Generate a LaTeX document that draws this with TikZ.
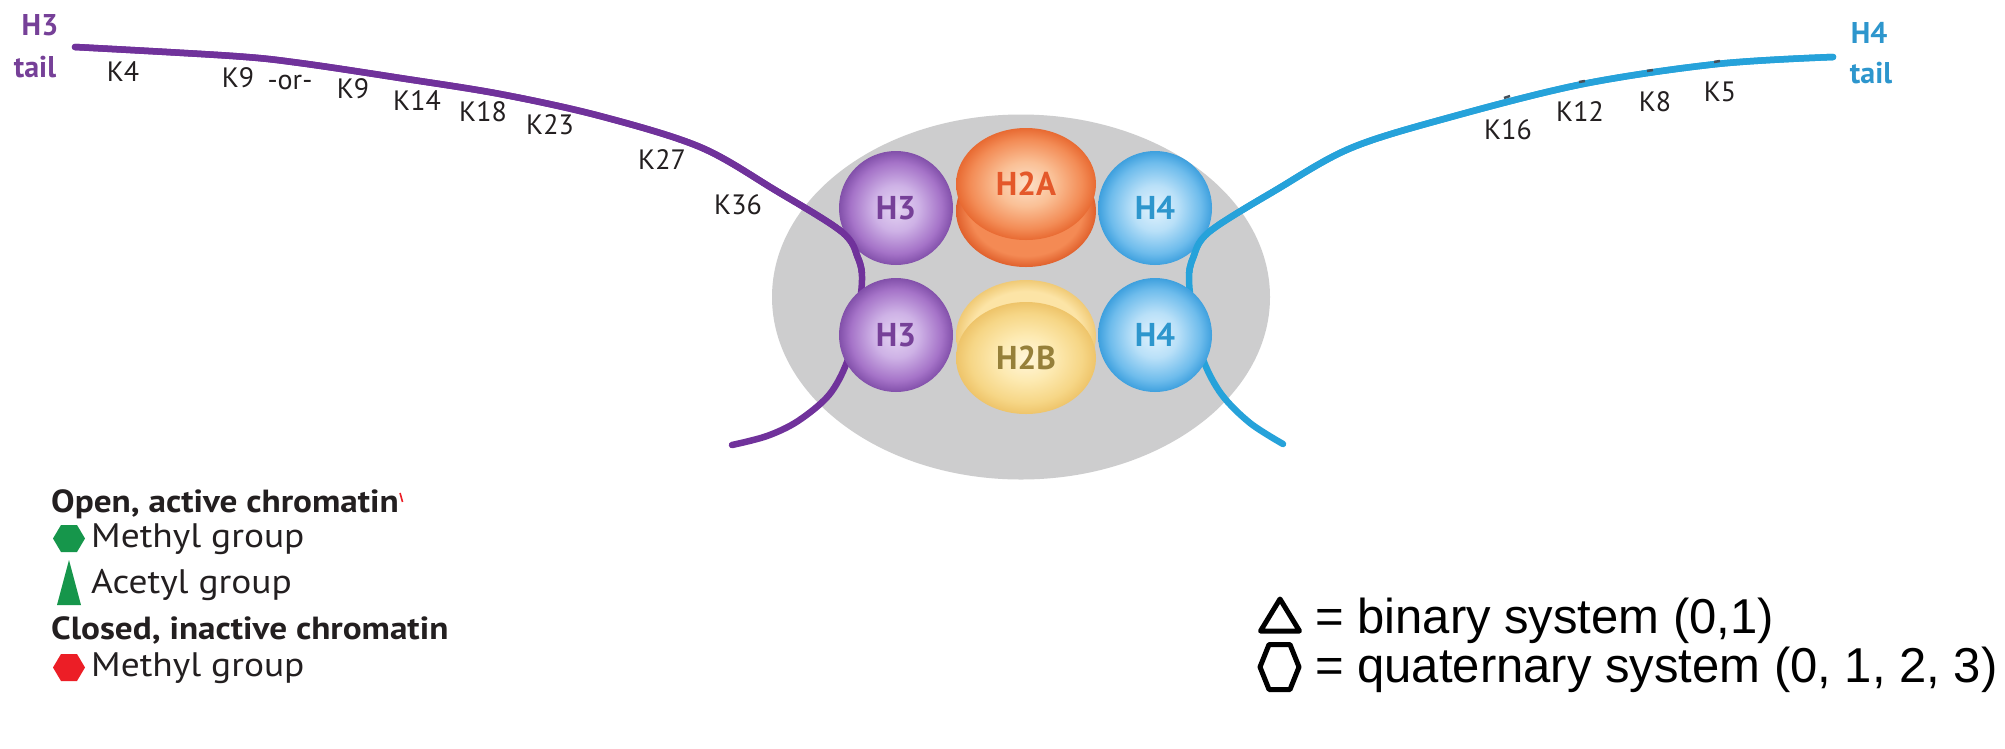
\documentclass[tikz,border=0pt]{standalone}
\usepackage{fontspec}
\setmainfont{PT Sans}
\newfontfamily\legendfont{PT Sans}[FakeStretch=1.1]
\newfontfamily\arialfont{Liberation Sans}
\usetikzlibrary{shapes.geometric}

% palette
\definecolor{coregray}{RGB}{205,205,206}
\definecolor{hthreeline}{RGB}{112,50,155}
\definecolor{hthreetext}{RGB}{118,64,152}
\definecolor{hfourline}{RGB}{38,162,218}
\definecolor{hfourtext}{RGB}{45,150,205}
\definecolor{ktext}{RGB}{35,31,32}
\definecolor{htwoatext}{RGB}{228,88,42}
\definecolor{htwobtext}{RGB}{150,128,58}
\definecolor{opengreen}{RGB}{22,150,75}
\definecolor{closedred}{RGB}{236,30,38}
\definecolor{ticksgray}{RGB}{70,80,90}

% histone ball colours (centre -> rim)
\definecolor{hthreeA}{RGB}{228,212,242}
\definecolor{hthreeB}{RGB}{206,178,230}
\definecolor{hthreeC}{RGB}{165,115,200}
\definecolor{hthreeD}{RGB}{130,80,170}
\definecolor{hfourA}{RGB}{225,242,253}
\definecolor{hfourB}{RGB}{185,224,248}
\definecolor{hfourC}{RGB}{110,188,236}
\definecolor{hfourD}{RGB}{62,160,222}
\definecolor{htwoaA}{RGB}{252,224,200}
\definecolor{htwoaB}{RGB}{250,192,150}
\definecolor{htwoaC}{RGB}{243,140,86}
\definecolor{htwoaD}{RGB}{232,106,50}
\definecolor{htwoaE}{RGB}{244,138,84}
\definecolor{htwoaF}{RGB}{224,96,44}
\definecolor{htwobA}{RGB}{255,246,218}
\definecolor{htwobB}{RGB}{253,234,178}
\definecolor{htwobC}{RGB}{246,214,134}
\definecolor{htwobD}{RGB}{238,196,106}
\definecolor{htwobE}{RGB}{252,228,166}
\definecolor{htwobF}{RGB}{240,202,118}

\pgfdeclareradialshading{ballthree}{\pgfpoint{0bp}{0bp}}{color(0bp)=(hthreeA); color(10bp)=(hthreeB); color(20bp)=(hthreeC); color(25bp)=(hthreeD); color(50bp)=(hthreeD)}
\pgfdeclareradialshading{ballfour}{\pgfpoint{0bp}{0bp}}{color(0bp)=(hfourA); color(10bp)=(hfourB); color(20bp)=(hfourC); color(25bp)=(hfourD); color(50bp)=(hfourD)}
\pgfdeclareradialshading{disctwoa}{\pgfpoint{0bp}{0bp}}{color(0bp)=(htwoaA); color(10bp)=(htwoaB); color(20bp)=(htwoaC); color(25bp)=(htwoaD); color(50bp)=(htwoaD)}
\pgfdeclareradialshading{disctwoaback}{\pgfpoint{0bp}{0bp}}{color(0bp)=(htwoaE); color(20bp)=(htwoaE); color(25bp)=(htwoaF); color(50bp)=(htwoaF)}
\pgfdeclareradialshading{disctwob}{\pgfpoint{0bp}{0bp}}{color(0bp)=(htwobA); color(10bp)=(htwobB); color(20bp)=(htwobC); color(25bp)=(htwobD); color(50bp)=(htwobD)}
\pgfdeclareradialshading{disctwobback}{\pgfpoint{0bp}{0bp}}{color(0bp)=(htwobE); color(20bp)=(htwobE); color(25bp)=(htwobF); color(50bp)=(htwobF)}

\tikzset{
  klabel/.style={font=\fontsize{28}{28}\selectfont, text=ktext, inner sep=0pt},
  taillabel/.style={font=\bfseries\fontsize{30}{30}\selectfont, inner sep=0pt, anchor=base},
  histone/.style={circle, inner sep=0pt, minimum size=114pt, shade, font=\bfseries\fontsize{33}{33}\selectfont},
  dimer/.style={ellipse, inner sep=0pt, minimum width=140pt, minimum height=112pt, shade, font=\bfseries\fontsize{33}{33}\selectfont},
  strand/.style={line width=6.5pt, line cap=round, line join=round},
  modtick/.style={ticksgray, line width=2.5pt},
  legendhead/.style={font=\legendfont\bfseries\fontsize{32}{32}\selectfont, text=ktext, anchor=base west, inner sep=0pt},
  legenditem/.style={font=\legendfont\fontsize{34}{34}\selectfont, text=ktext, anchor=base west, inner sep=0pt},
  keytext/.style={font=\arialfont\fontsize{49}{49}\selectfont, text=black, anchor=base west, inner sep=0pt},
  keyshape/.style={draw=black, line width=5pt, line join=round},
}

\begin{document}
\begin{tikzpicture}[x=1pt, y=-1pt]
\useasboundingbox (0,0) rectangle (2005,748);
\fill[white] (0,0) rectangle (2005,748);

% nucleosome core particle
\node[ellipse, fill=coregray, inner sep=0pt, minimum width=498pt, minimum height=365pt] (core) at (1021,297) {};

% histone tails, full length (the parts behind the lower histones)
\draw[strand, hthreeline] plot[smooth, tension=0.55] coordinates {(75,47) (233,56) (300,63) (400,78) (500,94) (600,116) (700,147) (775,190) (842,232) (858,258) (862,280) (857,322) (847,362) (829,395) (798,421) (767,436) (732,445)};
\draw[strand, hfourline] plot[smooth, tension=0.55] coordinates {(1833,57) (1717,64) (1583,84) (1451,117) (1351,148) (1276,190) (1209,232) (1193,258) (1189,280) (1194,322) (1204,362) (1222,395) (1250,423) (1283,444)};

% H2A / H2B discs (back disc first)
\node[dimer, shading=disctwoaback] (h2aback) at (1026,211) {};
\node[dimer, shading=disctwoa, text=htwoatext] (h2a) at (1026,184) {H2A};
\node[dimer, shading=disctwobback] (h2bback) at (1026,336) {};
\node[dimer, shading=disctwob, text=htwobtext] (h2b) at (1026,358) {H2B};

% H3 / H4 balls
\node[histone, shading=ballthree, text=hthreetext] (h3top) at (896,208) {H3};
\node[histone, shading=ballthree, text=hthreetext] (h3bot) at (896,335) {H3};
\node[histone, shading=ballfour, text=hfourtext] (h4top) at (1155,208) {H4};
\node[histone, shading=ballfour, text=hfourtext] (h4bot) at (1155,335) {H4};

% upper parts of the tails lie over the top balls
\begin{scope}
  \clip (0,0) rectangle (2005,272);
  \draw[strand, hthreeline] plot[smooth, tension=0.55] coordinates {(75,47) (233,56) (300,63) (400,78) (500,94) (600,116) (700,147) (775,190) (842,232) (858,258) (862,280) (857,322) (847,362) (829,395) (798,421) (767,436) (732,445)};
  \draw[strand, hfourline] plot[smooth, tension=0.55] coordinates {(1833,57) (1717,64) (1583,84) (1451,117) (1351,148) (1276,190) (1209,232) (1193,258) (1189,280) (1194,322) (1204,362) (1222,395) (1250,423) (1283,444)};
\end{scope}

% modification sites on the H4 tail
\draw[modtick] (1504,98) -- (1510,96);
\draw[modtick] (1579,82) -- (1585,81);
\draw[modtick] (1647,71) -- (1653,70);
\draw[modtick] (1714,62) -- (1720,61);

% tail names
\node[taillabel, text=hthreetext] (h3name) at (40,35) {H3};
\node[taillabel, text=hthreetext] (h3tail) at (35,77) {tail};
\node[taillabel, text=hfourtext] (h4name) at (1869,43) {H4};
\node[taillabel, text=hfourtext] (h4tail) at (1871,83) {tail};

% lysine residues, H3 tail
\node[klabel] (k4) at (123,72) {K4};
\node[klabel] (k9a) at (238,78) {K9};
\node[klabel] (kor) at (290,82) {-or-};
\node[klabel] (k9b) at (353,89) {K9};
\node[klabel] (k14) at (417,101) {K14};
\node[klabel] (k18) at (483,112) {K18};
\node[klabel] (k23) at (550,125) {K23};
\node[klabel] (k27) at (662,160) {K27};
\node[klabel] (k36) at (738,205) {K36};

% lysine residues, H4 tail
\node[klabel] (k16) at (1508,130) {K16};
\node[klabel] (k12) at (1580,112) {K12};
\node[klabel] (k8) at (1655,102) {K8};
\node[klabel] (k5) at (1720,92) {K5};

% legend: chromatin marks
\node[legendhead] (openhead) at (51,512) {Open, active chromatin};
\draw[closedred, line width=1.6pt] ([xshift=1pt, yshift=-4pt]openhead.north east) -- ++(2.5,9);
\fill[opengreen] (53,538.5) -- (61,525) -- (77,525) -- (85,538.5) -- (77,552) -- (61,552) -- cycle;
\node[legenditem] (openmethyl) at (91,547) {Methyl group};
\fill[opengreen] (69,560) -- (81,605) -- (57,605) -- cycle;
\node[legenditem] (openacetyl) at (91,593) {Acetyl group};
\node[legendhead] (closedhead) at (51,639) {Closed, inactive chromatin};
\fill[closedred] (53,667.5) -- (61,654) -- (77,654) -- (85,667.5) -- (77,681) -- (61,681) -- cycle;
\node[legenditem] (closedmethyl) at (91,676) {Methyl group};

% legend: number systems
\draw[keyshape] (1280,599) -- (1299.5,631) -- (1260.5,631) -- cycle;
\node[keytext] (binary) at (1315,633) {= binary system (0,1)};
\draw[keyshape] (1260,667) -- (1269,644.5) -- (1290,644.5) -- (1299,667) -- (1290,689.5) -- (1269,689.5) -- cycle;
\node[keytext] (quaternary) at (1315,682) {= quaternary system (0, 1, 2, 3)};
\end{tikzpicture}
\end{document}
